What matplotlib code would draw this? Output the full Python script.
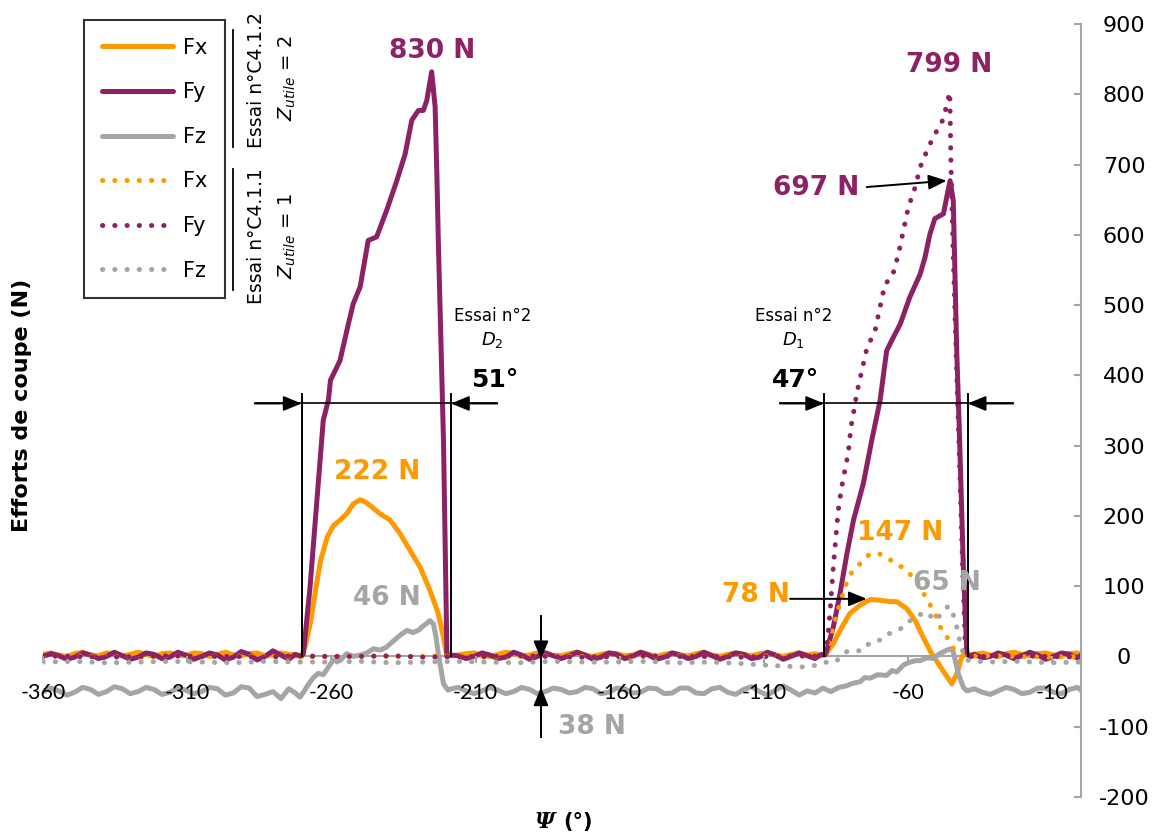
import numpy as np
import matplotlib
matplotlib.use('Agg')
import matplotlib.pyplot as plt
from matplotlib.lines import Line2D

plt.rcParams['font.family'] = ['DejaVu Sans']
plt.rcParams['mathtext.fontset'] = 'dejavusans'
plt.rcParams['axes.unicode_minus'] = False

ORANGE = '#FF9900'
PURPLE = '#8C2263'
GREY = '#A5A5A5'

# ---------------- data (psi in degrees, forces in N) ----------------
# regular baseline sampling positions
psi_A = np.arange(-360, -274, 2.75)                 # 32 samples
psi_B = np.arange(-216, -94, 2.75)                  # 45 samples
psi_C = np.append(np.arange(-37, 0.5, 2.75), 0.0)   # 15 samples
psi_base1 = np.arange(-360, -95, 11)                # 25 samples
psi_tail1 = np.arange(-33, 0.5, 11)                 # 4 samples

# --- Essai C4.1.2 (solid) ---
fx2_A = [3, 5, 2, 0, 4, 6, 2, 1, 5, 4, 1, 3, 6, 3, 0, 4, 5, 2, 1, 5, 4, 0, 3, 6, 2, 1, 4, 5, 1, 2, 5, 3]
fx2_p1_psi = [-272.5, -270.3, -269, -267.1, -265.3, -263.7, -261.4, -259.3, -257, -254.7, -252.4, -250,
              -248.3, -246.6, -243.1, -239.6, -236.2, -232.7, -229.2, -225.8, -222.9, -221.1, -220, -218.5]
fx2_p1 = [2, 0, 15, 51, 99, 137, 170, 186, 194, 203, 217, 223, 220, 215, 203, 194, 175, 151, 127, 94, 61, 27, 3, 1]
fx2_B = [2, 4, 5, 1, 0, 3, 6, 4, 1, 2, 5, 5, 1, 1, 4, 6, 2, 0, 3, 5, 4, 1, 2, 6, 3, 0, 3, 5, 2, 1,
         4, 6, 2, 0, 3, 5, 3, 1, 4, 5, 2, 0, 3, 5, 2]
fx2_p2_psi = [-92.25, -90.5, -88.8, -85.9, -83.6, -80.2, -76.6, -73.1, -69.7, -66.2, -63.9, -60.4, -57.5,
              -54.7, -51.8, -49.5, -47.1, -44.8, -43.1, -41.3, -39.5]
fx2_p2 = [4, 1, 2, 18, 37, 61, 73, 81, 80, 78, 78, 68, 51, 27, 4, -10, -25, -39, -25, 0, 3]
fx2_C = [3, 5, 2, 0, 4, 6, 3, 1, 4, 5, 2, 1, 4, 5, 3]

fy2_A = [0, 4, 1, -4, -1, 5, 2, -3, 0, 6, 1, -4, -1, 5, 3, -3, -1, 6, 2, -4, 0, 5, 2, -5, -1, 7, 3, -5, 0, 8, 2, -4]
fy2_p1_psi = [-272.5, -270.5, -269.7, -267.4, -265.1, -262.8, -261.0, -260.3, -257.0, -254.1, -252.4, -250.0,
              -247.2, -244.3, -240.8, -237.3, -234.4, -232.1, -229.8, -228.1, -226.9, -225.2, -224.0, -223.4,
              -222.9, -221.1, -219.9, -218.5]
fy2_p1 = [3, 0, 4, 98, 217, 336, 365, 393, 421, 473, 502, 526, 592, 597, 635, 677, 715, 763, 777, 777,
          791, 832, 782, 687, 592, 307, 0, 2]
fy2_B = [1, -3, 0, 5, 2, -3, -1, 6, 2, -4, 0, 5, 1, -3, 1, 6, 2, -4, -1, 5, 3, -3, 0, 6, 2, -4, -1, 5, 2, -3,
         0, 6, 1, -4, 0, 5, 3, -3, -1, 6, 2, -4, 0, 5, 1]
fy2_p2_psi = [-92.25, -90.5, -88.5, -85.9, -83.6, -81.2, -78.9, -75.5, -72.6, -69.7, -67.4, -65.6, -62.7,
              -59.4, -55.8, -54.1, -52.4, -50.7, -47.7, -46.6, -45.4, -44.3, -43.1, -42.2, -40.8, -39.6, -38.5]
fy2_p2 = [-3, 2, 4, 42, 89, 146, 194, 246, 307, 364, 435, 450, 473, 511, 544, 568, 601, 623, 630, 653,
          677, 649, 435, 322, 127, 4, 0]
fy2_C = [3, -2, 0, 5, 2, -3, 1, 6, 2, -4, 0, 5, 3, -2, 2]

fz2_A = [-50, -45, -49, -55, -51, -44, -47, -54, -50, -43, -46, -53, -50, -44, -47, -54,
         -51, -45, -48, -53, -50, -44, -46, -55, -52, -43, -45, -57, -54, -50, -60, -46]
fz2_p1_psi = [-272.5, -270.9, -269.5, -268, -266.2, -264.5, -262.8, -261, -259.3, -257, -254.7, -252.4,
              -250, -247.7, -245.4, -243.1, -241, -239.6, -236.2, -233.8, -231.6, -229.5, -228.6, -226.9,
              -225.8, -224.6, -223.8, -222.9, -221.1, -219.5, -218.2]
fz2_p1 = [-52, -58, -50, -40, -30, -24, -26, -15, -5, -6, 4, 0, 2, 5, 11, 9, 13, 18, 30, 37, 34, 38,
          42, 47, 51, 46, 30, 4, -39, -48, -46]
fz2_B = [-44, -49, -53, -49, -44, -48, -53, -50, -44, -47, -53, -50, -45, -47, -52, -50, -44, -46, -53, -51,
         -45, -46, -52, -51, -45, -46, -53, -52, -45, -45, -52, -53, -46, -44, -51, -54, -47, -43, -50, -55,
         -48, -42, -48, -55, -49]
fz2_p2_psi = [-92.25, -89.5, -86.75, -84, -81.5, -79, -76.6, -75, -73.2, -70.5, -67.4, -65.5, -63.9,
              -61.5, -59.9, -57.5, -55.8, -53.5, -51.2, -49, -46.5, -44.8, -44.3, -42.5, -40.8, -39.6]
fz2_p2 = [-52, -45, -50, -44, -42, -38, -36, -30, -31, -26, -27, -20, -22, -12, -9, -6, -6, -2, -3, 4,
          9, 11, 6, -25, -44, -49]
fz2_C = [-46, -51, -54, -49, -44, -47, -53, -51, -45, -45, -51, -53, -47, -44, -48]

# --- Essai C4.1.1 (dotted) ---
fx1_base = [0, 1, 0, -1, 1, 0, 1, 0, -1, 0, 1, 0, 0, 1, -1, 0, 1, 0, -1, 0, 1, 0, 0, 1, 0]
fx1_p_psi = [-91, -88.8, -87.6, -85.9, -83.6, -81.2, -79.5, -76.6, -73.7, -70.3, -66.8, -63.9, -60.4,
             -56.9, -53.5, -50.6, -48.3, -46.0, -44.2, -41.9, -40]
fx1_p = [0, 0, 13, 42, 75, 106, 120, 132, 144, 147, 139, 132, 122, 106, 82, 61, 37, 25, 11, 4, 0]
fx1_tail = [1, 0, -1, 0]

fy1_base = [1, 0, -1, 0, 1, 0, 0, -1, 1, 0, 0, 1, -1, 0, 0, 1, 0, -1, 0, 1, 0, 0, -1, 0, 1]
fy1_p_psi = [-91, -88.8, -88.2, -87.6, -87.0, -86.5, -85.9, -85.3, -84.2, -83.0, -81.9, -80.7, -79.8,
             -78.4, -77.8, -76.0, -74.3, -71.4, -69.7, -68.0, -65.5, -63.3, -61.6, -59.9, -57.5, -55.8,
             -52.9, -50.0, -47.7, -46.6, -45.5, -45.1, -44.5, -43.3, -42.3, -41.0, -40.0]
fy1_p = [0, 0, 13, 37, 65, 94, 127, 156, 208, 241, 265, 290, 326, 358, 374, 407, 438, 464, 497, 530,
         540, 573, 606, 639, 668, 696, 725, 748, 765, 785, 803, 700, 600, 430, 300, 120, 0]
fy1_tail = [0, 1, 0, -1]

fz1_base = [-8, -7, -9, -8, -7, -8, -9, -7, -8, -8, -7, -9, -8, -7, -8, -9, -7, -8, -8, -7,
            -9, -8, -10, -13, -15]
fz1_p_psi = [-91, -88.2, -85.3, -83, -81.2, -78.4, -76.0, -73.1, -69.1, -66.8, -62.7, -59.9, -56.9,
             -53.5, -50.6, -48.3, -46.0, -44.2, -43.1, -42.2, -41.2, -40]
fz1_p = [-12, -8, -8, 0, 7, 8, 8, 20, 24, 32, 39, 49, 58, 63, 51, 61, 72, 58, 42, 25, 9, -5]
fz1_tail = [-8, -7, -9, -8]

legend_labels = ['Fx', 'Fy', 'Fz', 'Fx', 'Fy', 'Fz']
xticks = np.arange(-360, 0, 50)
yticks = np.arange(-200, 901, 100)


def join(*parts):
    xs = np.concatenate([np.asarray(p[0], float) for p in parts])
    ys = np.concatenate([np.asarray(p[1], float) for p in parts])
    return xs, ys


solid = [
    (join((psi_A, fx2_A), (fx2_p1_psi, fx2_p1), (psi_B, fx2_B), (fx2_p2_psi, fx2_p2), (psi_C, fx2_C)), ORANGE),
    (join((psi_A, fy2_A), (fy2_p1_psi, fy2_p1), (psi_B, fy2_B), (fy2_p2_psi, fy2_p2), (psi_C, fy2_C)), PURPLE),
    (join((psi_A, fz2_A), (fz2_p1_psi, fz2_p1), (psi_B, fz2_B), (fz2_p2_psi, fz2_p2), (psi_C, fz2_C)), GREY),
]
dotted = [
    (join((psi_base1, fx1_base), (fx1_p_psi, fx1_p), (psi_tail1, fx1_tail)), ORANGE),
    (join((psi_base1, fy1_base), (fy1_p_psi, fy1_p), (psi_tail1, fy1_tail)), PURPLE),
    (join((psi_base1, fz1_base), (fz1_p_psi, fz1_p), (psi_tail1, fz1_tail)), GREY),
]

W, H = 1163, 839
fig = plt.figure(figsize=(W / 100, H / 100), dpi=100)
ax = fig.add_axes([43 / W, 1 - 797 / H, (1081 - 43) / W, (797 - 24) / H])

LW = 3.6
DOT = (0, (0.05, 2.4))
for (x, y), c in solid:
    ax.plot(x, y, color=c, lw=LW, solid_capstyle='round', solid_joinstyle='round', zorder=2)
for (x, y), c in dotted:
    ax.plot(x, y, color=c, lw=LW, ls=DOT, dash_capstyle='round', zorder=3)

ax.set_xlim(-360, 0)
ax.set_ylim(-200, 900)
ax.set_xticks(xticks)
ax.set_yticks(yticks)
ax.yaxis.tick_right()
for s in ['top', 'left']:
    ax.spines[s].set_visible(False)
ax.spines['bottom'].set_position(('data', 0))
ax.spines['bottom'].set_color(GREY)
ax.spines['bottom'].set_linewidth(1.5)
ax.spines['bottom'].set_zorder(1)
ax.spines['right'].set_color(GREY)
ax.spines['right'].set_linewidth(1.5)
ax.tick_params(axis='x', direction='out', length=5, width=1.5, color=GREY, pad=14, labelsize=15.5)
ax.tick_params(axis='y', direction='in', length=5, width=1.5, color=GREY, pad=31, labelsize=16)
ax.xaxis.set_zorder(4.5)
for t in ax.get_xticklabels():
    t.set_fontfamily('Lato')
for t in ax.get_yticklabels():
    t.set_horizontalalignment('center')

# legend
handles = [Line2D([], [], color=ORANGE, lw=LW, solid_capstyle='round'),
           Line2D([], [], color=PURPLE, lw=LW, solid_capstyle='round'),
           Line2D([], [], color=GREY, lw=LW, solid_capstyle='round'),
           Line2D([], [], color=ORANGE, lw=LW, ls=DOT, dash_capstyle='round'),
           Line2D([], [], color=PURPLE, lw=LW, ls=DOT, dash_capstyle='round'),
           Line2D([], [], color=GREY, lw=LW, ls=DOT, dash_capstyle='round')]
leg = ax.legend(handles, legend_labels, loc='upper left', bbox_to_anchor=(84 / W, 1 - 20 / H),
                bbox_transform=fig.transFigure, frameon=True, fancybox=False, edgecolor='black',
                fontsize=15, handlelength=3.4, handletextpad=0.5, labelspacing=1.18,
                borderpad=0.85, borderaxespad=0)
leg.get_frame().set_linewidth(1.5)
leg.set_zorder(8)

# bracket lines and test labels next to legend
for y0, y1 in [(30, 147), (169, 290)]:
    fig.add_artist(Line2D([233 / W, 233 / W], [1 - y0 / H, 1 - y1 / H], transform=fig.transFigure,
                          color='black', lw=1.3))
fig.text(256 / W, 1 - 80 / H, 'Essai n°C4.1.2', rotation=90, ha='center', va='center', fontsize=13.5)
fig.text(287 / W, 1 - 78 / H, r'$Z_{utile}$ = 2', rotation=90, ha='center', va='center', fontsize=14)
fig.text(256 / W, 1 - 236 / H, 'Essai n°C4.1.1', rotation=90, ha='center', va='center', fontsize=13.5)
fig.text(287 / W, 1 - 236 / H, r'$Z_{utile}$ = 1', rotation=90, ha='center', va='center', fontsize=14)

# axis titles
fig.text(22 / W, 1 - 405 / H, 'Efforts de coupe (N)', rotation=90, ha='center', va='center',
         fontsize=16, weight='bold')
fig.text(545 / W, 1 - 822 / H, 'Ψ', family='DejaVu Serif', style='italic', weight='bold',
         fontsize=16, ha='center', va='center')
fig.text(578 / W, 1 - 822 / H, '(°)', weight='bold', fontsize=15, ha='center', va='center')

# value labels
def vlabel(txt, x, y, c):
    ax.text(x, y, txt, color=c, fontsize=19, weight='bold', ha='center', va='center', zorder=6)

vlabel('830 N', -225.1, 862, PURPLE)
vlabel('799 N', -45.7, 842, PURPLE)
vlabel('697 N', -91.9, 667, PURPLE)
vlabel('222 N', -244.2, 262, ORANGE)
vlabel('147 N', -62.7, 176, ORANGE)
vlabel('78 N', -112.7, 88, ORANGE)
vlabel('46 N', -240.7, 83, GREY)
vlabel('65 N', -46.4, 105, GREY)
vlabel('38 N', -169.6, -101, GREY)

# arrows
AP = dict(arrowstyle='-|>,head_length=1.1,head_width=0.45', color='black', lw=1.4, shrinkA=0, shrinkB=0)
ax.annotate('', xy=(-46.6, 677), xytext=(-74.3, 668), arrowprops=AP, zorder=7)
ax.annotate('', xy=(-74.3, 82), xytext=(-100.9, 82), arrowprops=AP, zorder=7)

# dimension lines (angular engagement)
def dim(x0, x1, xl, xr, y, ytop):
    ax.plot([x0, x0], [0, ytop], color='black', lw=1.4, zorder=5)
    ax.plot([x1, x1], [0, ytop], color='black', lw=1.4, zorder=5)
    ax.plot([xl, xr], [y, y], color='black', lw=1.2, zorder=5)
    ax.annotate('', xy=(x0, y), xytext=(xl, y), arrowprops=AP, zorder=7)
    ax.annotate('', xy=(x1, y), xytext=(xr, y), arrowprops=AP, zorder=7)

dim(-270.3, -218.5, -286.5, -202.5, 360, 374)
dim(-89.1, -39.3, -104.4, -23.5, 360, 374)

for x, d, a in [(-204.2, r'$D_{\mathit{2}}$', '51°'), (-99.8, r'$D_{\mathit{1}}$', '47°')]:
    ax.text(x, 485, 'Essai n°2', fontsize=12, ha='center', va='center')
    ax.text(x, 450, d, fontsize=13, ha='center', va='center')
    ax.text(x + 0.8, 393, a, fontsize=18, weight='bold', ha='center', va='center')

# 38 N offset marker
ax.plot([-187.3, -187.3], [58, -115], color='black', lw=1.4, zorder=5)
ax.annotate('', xy=(-187.3, -4), xytext=(-187.3, 40), arrowprops=AP, zorder=7)
ax.annotate('', xy=(-187.3, -44), xytext=(-187.3, -90), arrowprops=AP, zorder=7)

fig.savefig('out.png', dpi=100)
